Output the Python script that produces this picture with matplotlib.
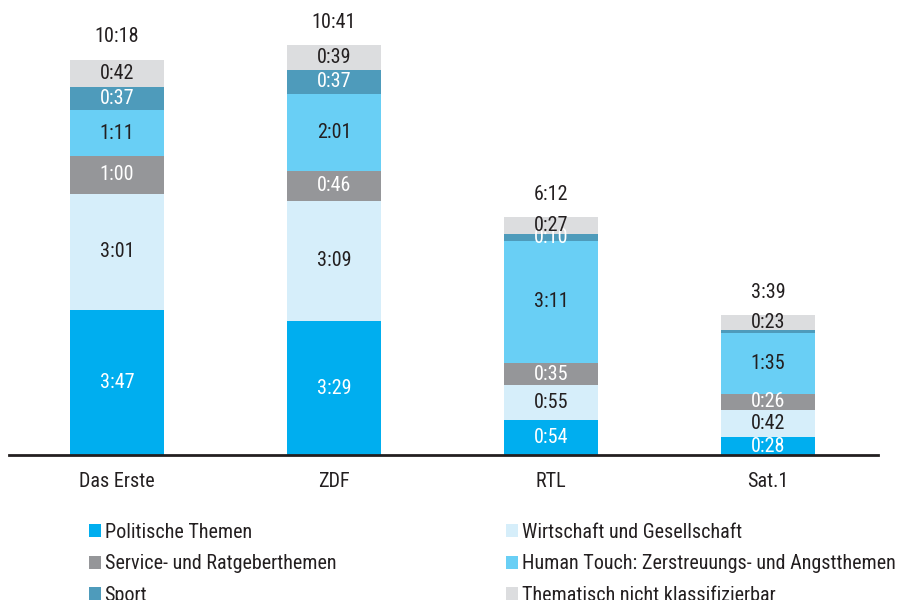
import matplotlib
matplotlib.use("Agg")
import matplotlib.pyplot as plt
from matplotlib.patches import Patch
from matplotlib import font_manager

names = {f.name for f in font_manager.fontManager.ttflist}
prefs = ['Roboto Condensed', 'Archivo Narrow', 'PT Sans Narrow', 'Liberation Sans Narrow',
         'Fira Sans Condensed', 'IBM Plex Sans Condensed', 'Liberation Sans']
base_font = next(p for p in prefs if p in names)
plt.rcParams['font.family'] = [base_font, 'DejaVu Sans']

categories = ['Das Erste', 'ZDF', 'RTL', 'Sat.1']
series_names = ['Politische Themen', 'Wirtschaft und Gesellschaft',
                'Service- und Ratgeberthemen',
                'Human Touch: Zerstreuungs- und Angstthemen',
                'Sport', 'Thematisch nicht klassifizierbar']
politik = ['3:47', '3:29', '0:54', '0:28']
wirtschaft = ['3:01', '3:09', '0:55', '0:42']
service = ['1:00', '0:46', '0:35', '0:26']
human = ['1:11', '2:01', '3:11', '1:35']
sport = ['0:37', '0:37', '0:10', '0:05']
nicht = ['0:42', '0:39', '0:27', '0:23']

colors = ['#00AEEF', '#D6EEFA', '#959699', '#69CFF5', '#4E9BBB', '#DCDDDF']
text_colors = ['white', '#231F20', 'white', '#231F20', 'white', '#231F20']
DARK = '#231F20'


def to_sec(s):
    m, sec = s.split(':')
    return int(m) * 60 + int(sec)


def fmt(sec):
    return f"{sec // 60}:{sec % 60:02d}"


series = [politik, wirtschaft, service, human, sport, nicht]

fig = plt.figure(figsize=(8.99, 6.00), dpi=100)
ax = fig.add_axes([9 / 899, 145 / 600, 869 / 899, 455 / 600])
x = list(range(len(categories)))
FS = 14.5

bottoms = [0] * len(categories)
handles = []
for vals, col, tcol, name in zip(series, colors, text_colors, series_names):
    secs = [to_sec(v) for v in vals]
    ax.bar(x, secs, width=0.437, bottom=bottoms, color=col, edgecolor='none')
    for i, (s, lab) in enumerate(zip(secs, vals)):
        if s >= 8:
            ax.text(x[i], bottoms[i] + s / 2, lab, ha='center', va='center',
                    color=tcol, fontsize=FS)
    bottoms = [b + s for b, s in zip(bottoms, secs)]
    handles.append(Patch(facecolor=col, edgecolor='none', label=name))

for i, tot in enumerate(bottoms):
    ax.annotate(fmt(tot), (x[i], tot), xytext=(0, 16.5), textcoords='offset points',
                ha='center', va='center', color=DARK, fontsize=FS)

ax.set_xlim(-0.498, 3.507)
ax.set_ylim(0, 455 / 0.6394)
for sp in ['top', 'right', 'left']:
    ax.spines[sp].set_visible(False)
ax.spines['bottom'].set_linewidth(2)
ax.spines['bottom'].set_color(DARK)
ax.set_yticks([])
ax.set_xticks(x)
ax.set_xticklabels(categories, fontsize=FS, color=DARK)
ax.tick_params(axis='x', length=0, pad=12)

leg_kw = dict(loc='upper left', frameon=False, fontsize=FS, borderpad=0,
              borderaxespad=0, handlelength=0.62, handleheight=0.62,
              handletextpad=0.15, labelspacing=0.62, labelcolor=DARK)
leg1 = fig.legend(handles=[handles[0], handles[2], handles[4]],
                  bbox_to_anchor=(89 / 899, 1 - 523 / 600), **leg_kw)
leg2 = fig.legend(handles=[handles[1], handles[3], handles[5]],
                  bbox_to_anchor=(506 / 899, 1 - 523 / 600), **leg_kw)

fig.savefig('out.png', dpi=100)
